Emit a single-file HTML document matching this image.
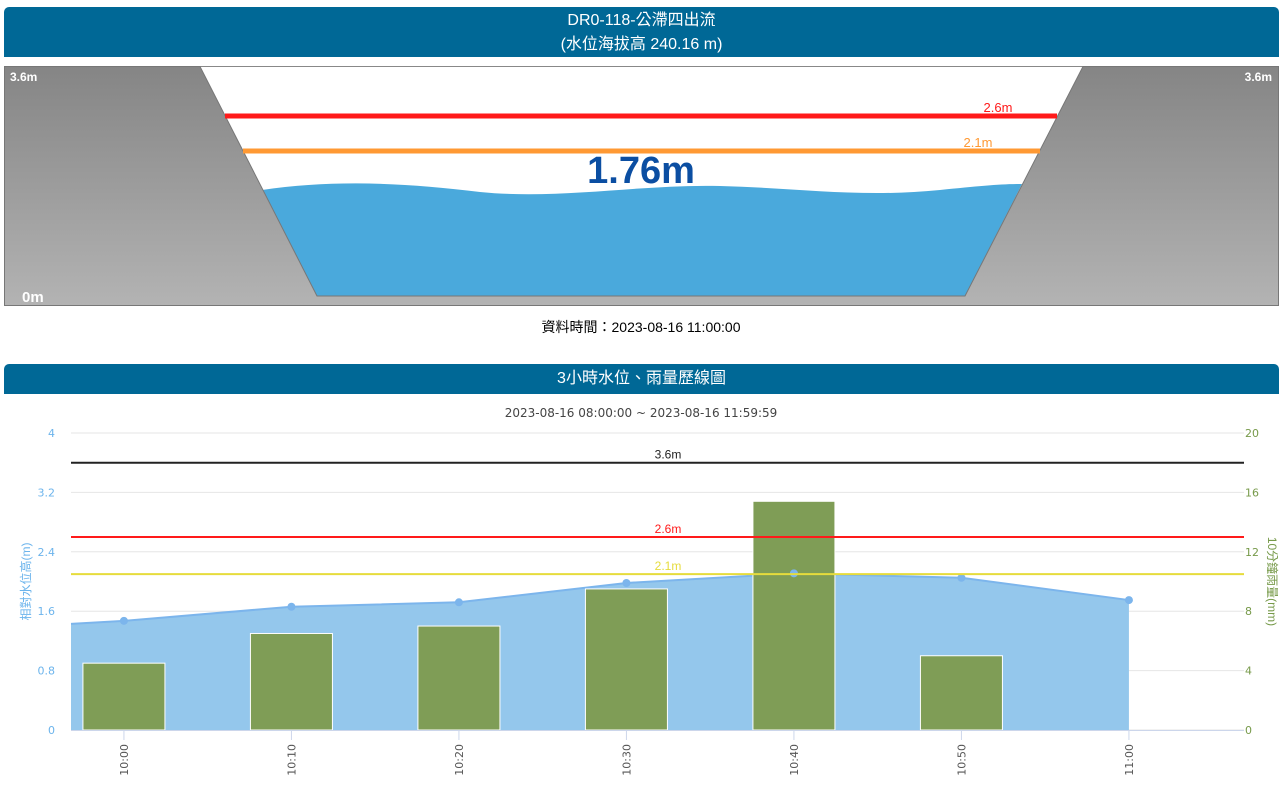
<!DOCTYPE html>
<html><head><meta charset="utf-8"><style>
body{margin:0;width:1286px;height:800px;background:#fff;font-family:"Liberation Sans","Noto Sans CJK TC",sans-serif;overflow:hidden;position:relative}
.hdr{position:absolute;left:4px;width:1275px;background:#006896;color:#fff;text-align:center;border-radius:5px 5px 0 0}
</style></head><body>
<div class="hdr" style="top:7px;height:50px;font-size:16px;line-height:24px;padding-top:2px;box-sizing:border-box">DR0-118-公滯四出流<br>(水位海拔高 240.16 m)</div>
<svg style="position:absolute;left:0;top:0" width="1286" height="340">
<defs><linearGradient id="g" x1="0" y1="0" x2="0" y2="1"><stop offset="0" stop-color="#858585"/><stop offset="1" stop-color="#b3b3b3"/></linearGradient></defs>
<rect x="4.5" y="66.5" width="1274" height="239" fill="#fff" stroke="#888"/>
<path d="M262,190 C330,180 400,182 480,192 C560,200 640,184 720,186 C800,188 860,198 940,190 C980,186 1000,184 1022,184 L965,296 L317,296 Z" fill="#4aa9dc"/>
<path d="M4.5,66.5 L200,66.5 L317,296 L965,296 L1083,66.5 L1278.5,66.5 L1278.5,305.5 L4.5,305.5 Z" fill="url(#g)" stroke="#777"/>
<line x1="225" y1="116" x2="1057" y2="116" stroke="#ff1a1a" stroke-width="5"/>
<line x1="243" y1="151" x2="1040" y2="151" stroke="#ff9933" stroke-width="5"/>
<text x="998" y="112" font-size="13" fill="#ff1a1a" text-anchor="middle">2.6m</text>
<text x="978" y="147" font-size="13" fill="#ff9933" text-anchor="middle">2.1m</text>
<text x="641" y="183" font-size="38" font-weight="bold" fill="#0b4ea2" text-anchor="middle">1.76m</text>
<text x="10" y="81" font-size="12" font-weight="bold" fill="#fff">3.6m</text>
<text x="1272" y="81" font-size="12" font-weight="bold" fill="#fff" text-anchor="end">3.6m</text>
<text x="22" y="302" font-size="15" font-weight="bold" fill="#fff">0m</text>
<text x="641" y="332" font-size="14" fill="#000" text-anchor="middle">資料時間：2023-08-16 11:00:00</text>
</svg>
<div class="hdr" style="top:364px;height:30px;font-size:16px;line-height:30px">3小時水位、雨量歷線圖</div>
<svg id="c" style="position:absolute;left:0;top:394px" width="1286" height="406"></svg>
<script>
const categories=['10:00','10:10','10:20','10:30','10:40','10:50','11:00'];
const waterLevel=[1.47,1.66,1.72,1.98,2.11,2.05,1.75];
const waterPrev=1.34;
const rainfall=[4.5,6.5,7,9.5,15.4,5,0];
const leftTicks=[0,0.8,1.6,2.4,3.2,4];
const rightTicks=[0,4,8,12,16,20];
const thresholds=[3.6,2.6,2.1];
const thresholdLabels=['3.6m','2.6m','2.1m'];
const thresholdColors=['#222','#ff1a1a','#e6dc3c'];
const OY=394;
const L=71,R=1244,T=433-OY,B=730-OY;
const xmin=-0.316,xmax=6.687;
const X=i=>L+(i-xmin)/(xmax-xmin)*(R-L);
const Y=v=>B-v/4*(B-T);
const YR=v=>B-v/20*(B-T);
const s=document.getElementById('c');
const NS='http://www.w3.org/2000/svg';
function mk(t,a,p){const e=document.createElementNS(NS,t);for(const k in a)e.setAttribute(k,a[k]);(p||s).appendChild(e);return e;}
let t=mk('text',{x:641,y:23,'font-size':12,fill:'#444','text-anchor':'middle','font-family':'DejaVu Sans, sans-serif'});t.textContent='2023-08-16 08:00:00 ~ 2023-08-16 11:59:59';


leftTicks.forEach((v,i)=>{
 const g=mk('line',{x1:L,x2:R,y1:Y(v),y2:Y(v),stroke:'#e6e6e6'});
 
 
 const a=mk('text',{x:55,y:Y(v)+4,'font-size':11,fill:'#6cb4ec','text-anchor':'end','font-family':'DejaVu Sans, sans-serif'});a.textContent=v;
 
 
 const b=mk('text',{x:1245,y:Y(v)+4,'font-size':11,fill:'#779a4a','font-family':'DejaVu Sans, sans-serif'});b.textContent=rightTicks[i];
 
 
});
// area
let d=`M${L},${B} L${L},${Y(waterPrev+(waterLevel[0]-waterPrev)*(1-(X(0)-L)/(X(0)-X(-1))))}`;
waterLevel.forEach((v,i)=>d+=` L${X(i)},${Y(v)}`);
d+=` L${X(6)},${B} Z`;
const area=mk('path',{d,fill:'#94c7ec'});


let ld=`M${L},${Y(waterPrev+(waterLevel[0]-waterPrev)*(1-(X(0)-L)/(X(0)-X(-1))))}`;
waterLevel.forEach((v,i)=>ld+=` L${X(i)},${Y(v)}`);
const ln=mk('path',{d:ld,fill:'none',stroke:'#7cb5ec','stroke-width':2});


const bw=82;
rainfall.forEach((v,i)=>{if(!v)return;
 const r=mk('rect',{x:X(i)-bw/2,y:YR(v),width:bw,height:B-YR(v),fill:'#7f9d56',stroke:'#fff','stroke-width':1});
 
 
});
waterLevel.forEach((v,i)=>{
 const c=mk('circle',{cx:X(i),cy:Y(v),r:4,fill:'#7cb5ec'});
 
 
});
thresholds.forEach((v,i)=>{
 const l=mk('line',{x1:L,x2:R,y1:Y(v),y2:Y(v),stroke:thresholdColors[i],'stroke-width':2});
 
 
 const tx=mk('text',{x:668,y:Y(v)-4,'font-size':12,fill:thresholdColors[i],'text-anchor':'middle'});tx.textContent=thresholdLabels[i];
 
 
});
const ax=mk('line',{x1:L,x2:R,y1:B+0.5,y2:B+0.5,stroke:'#ccd6eb'});


categories.forEach((c,i)=>{
 const tk=mk('line',{x1:X(i),x2:X(i),y1:B,y2:B+10,stroke:'#ccd6eb'});
 
 
 const tx=mk('text',{x:0,y:0,'font-size':11,fill:'#555','text-anchor':'end','font-family':'DejaVu Sans, sans-serif',transform:`translate(${X(i)+4},${B+14}) rotate(-90)`});tx.textContent=c;
 
 
});
const yl=mk('text',{x:0,y:0,'font-size':12,fill:'#6cb4ec','text-anchor':'middle',transform:`translate(30,${(T+B)/2}) rotate(-90)`});yl.textContent='相對水位高(m)';


const yr=mk('text',{x:0,y:0,'font-size':12,fill:'#779a4a','text-anchor':'middle',transform:`translate(1268,${(T+B)/2}) rotate(90)`});yr.textContent='10分鐘雨量(mm)';


</script>
</body></html>
